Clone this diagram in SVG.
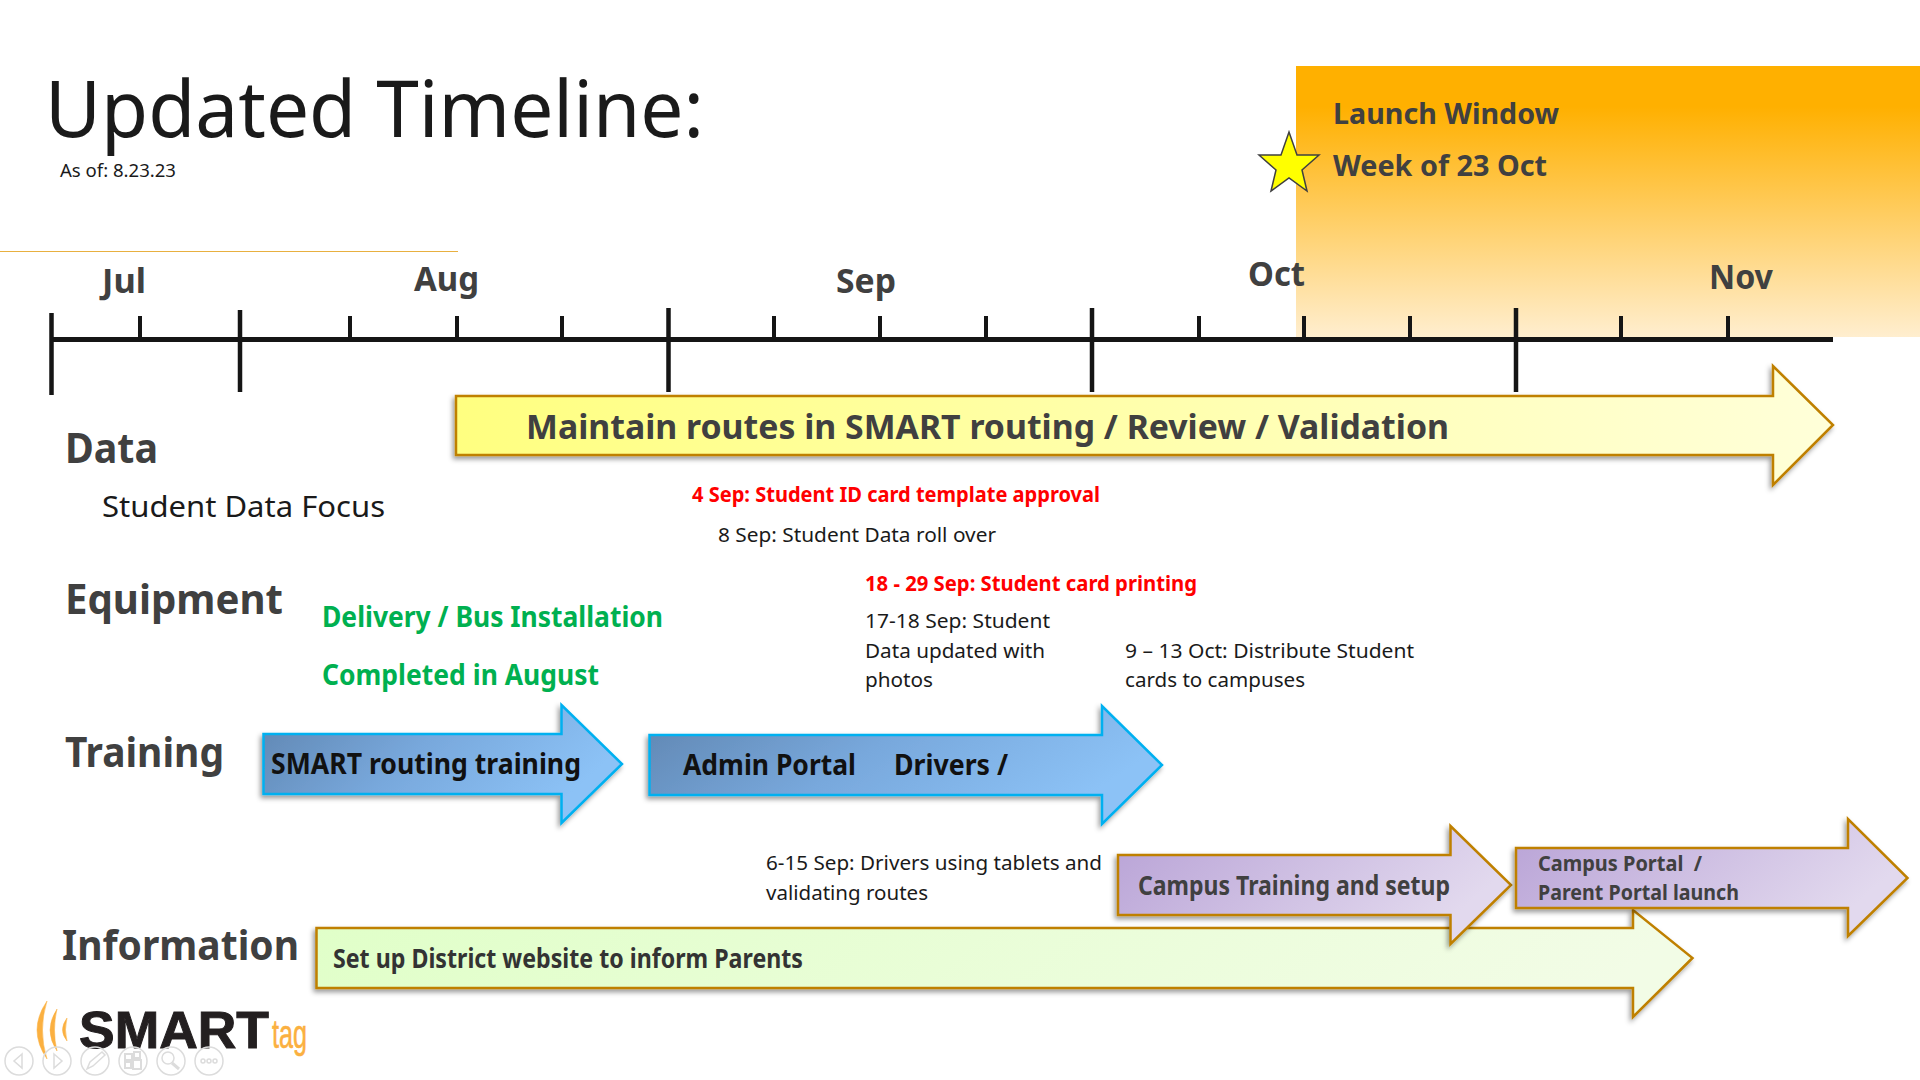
<svg xmlns="http://www.w3.org/2000/svg" width="1920" height="1080" viewBox="0 0 1920 1080">
<defs>
<linearGradient id="gold" x1="0" y1="0" x2="0" y2="1"><stop offset="0.15" stop-color="#ffb000"/><stop offset="1" stop-color="#ffeecf"/></linearGradient>
<linearGradient id="yel" x1="0" y1="0" x2="1" y2="0"><stop offset="0" stop-color="#ffff80"/><stop offset="1" stop-color="#ffffd9"/></linearGradient>
<linearGradient id="blu" x1="0" y1="0" x2="1" y2="0.35"><stop offset="0" stop-color="#5f85b0"/><stop offset="0.5" stop-color="#78a8dc"/><stop offset="1" stop-color="#8cc2f6"/></linearGradient>
<linearGradient id="pur" x1="0" y1="0" x2="1" y2="0.35"><stop offset="0" stop-color="#b8a2d6"/><stop offset="1" stop-color="#e2d9ee"/></linearGradient>
<linearGradient id="grn" x1="0" y1="0" x2="1" y2="0.1"><stop offset="0" stop-color="#e0ffc8"/><stop offset="1" stop-color="#f2fce6"/></linearGradient>
<filter id="sh" x="-5%" y="-10%" width="110%" height="125%"><feDropShadow dx="-2" dy="3" stdDeviation="2.5" flood-color="#000" flood-opacity="0.4"/></filter>
</defs>
<style>
text{font-family:"Noto Sans",Lato,"Liberation Sans",sans-serif;white-space:pre}
.h{font-weight:700;fill:#404040}
.b{fill:#1a1a1a;font-size:20px}
.r{font-weight:700;fill:#ff0000;font-size:20.5px}
.g{font-weight:700;fill:#00b050;font-size:28px}
.m{font-weight:700;fill:#404040;font-size:34px}
.ax{stroke:#151515;fill:none}
.ar{stroke-width:2.5;stroke-linejoin:miter;filter:url(#sh)}
.gd{stroke:#bf8000}
.bl{stroke:#00b0f0;fill:url(#blu)}
.nav{fill:none;stroke:#dcdcdc;stroke-width:1.5}
</style>
<rect width="1920" height="1080" fill="#fff"/>
<rect id="launch-window-band" x="1296" y="66" width="624" height="271" fill="url(#gold)"/>
<g id="header">
<text x="45" y="137" font-size="79" fill="#1a1a1a" textLength="659" lengthAdjust="spacingAndGlyphs">Updated Timeline:</text>
<text class="b" x="60" y="177" style="font-size:18px" textLength="116" lengthAdjust="spacingAndGlyphs">As of: 8.23.23</text>
<line x1="0" y1="251.5" x2="458" y2="251.5" stroke="#e8b040" stroke-width="1"/>
</g>
<g id="connectors">
<path class="ax" stroke-width="5" d="M51 339.500H1833"/>
<path class="ax" stroke-width="4.500" d="M51.500 313V395M240 310V392M668.500 308V392M1092 308V392M1516 308V392"/>
<path class="ax" stroke-width="4" d="M140 316V339M350 316V339M457 316V339M562 316V339M774 316V339M880 316V339M986 316V339M1199 316V339M1304 316V339M1410 316V339M1621 316V339M1728 316V339"/>
</g>
<g id="months">
<text class="m" x="102" y="293" textLength="44" lengthAdjust="spacingAndGlyphs">Jul</text>
<text class="m" x="414" y="291" textLength="65" lengthAdjust="spacingAndGlyphs">Aug</text>
<text class="m" x="836" y="293" textLength="60" lengthAdjust="spacingAndGlyphs">Sep</text>
<text class="m" x="1248" y="286" textLength="57" lengthAdjust="spacingAndGlyphs">Oct</text>
<text class="m" x="1709" y="289" textLength="64" lengthAdjust="spacingAndGlyphs">Nov</text>
</g>
<g id="launch">
<polygon points="1289,132 1297,155 1319,155 1302,170 1307,191 1289,178 1271,191 1276,170 1259,155 1281,155" fill="#ffff00" stroke="#404040" stroke-width="1.5"/>
<text class="h" x="1333" y="124" font-size="29" textLength="226" lengthAdjust="spacingAndGlyphs">Launch Window</text>
<text class="h" x="1333" y="176" font-size="29" textLength="214" lengthAdjust="spacingAndGlyphs">Week of 23 Oct</text>
</g>
<g id="row-labels">
<text class="h" x="65" y="463" font-size="42" textLength="93" lengthAdjust="spacingAndGlyphs">Data</text>
<text x="102" y="517" font-size="29" fill="#1a1a1a" textLength="283" lengthAdjust="spacingAndGlyphs">Student Data Focus</text>
<text class="h" x="65" y="614" font-size="42" textLength="218" lengthAdjust="spacingAndGlyphs">Equipment</text>
<text class="h" x="65" y="767" font-size="42" textLength="159" lengthAdjust="spacingAndGlyphs">Training</text>
<text class="h" x="62" y="960" font-size="42" textLength="237" lengthAdjust="spacingAndGlyphs">Information</text>
</g>
<g id="arrow-data">
<polygon class="ar gd" fill="url(#yel)" points="456,396 1773,396 1773,366 1833,425 1773,485 1773,455 456,455"/>
<text class="h" x="526" y="439" font-size="34" textLength="923" lengthAdjust="spacingAndGlyphs">Maintain routes in SMART routing / Review / Validation</text>
</g>
<g id="milestones">
<text class="r" x="692" y="502" textLength="408" lengthAdjust="spacingAndGlyphs">4 Sep: Student ID card template approval</text>
<text class="b" x="718" y="542" textLength="278" lengthAdjust="spacingAndGlyphs">8 Sep: Student Data roll over</text>
<text class="r" x="865" y="591" textLength="332" lengthAdjust="spacingAndGlyphs">18 - 29 Sep: Student card printing</text>
<text class="b" x="865" y="628" textLength="185" lengthAdjust="spacingAndGlyphs">17-18 Sep: Student</text>
<text class="b" x="865" y="658" textLength="180" lengthAdjust="spacingAndGlyphs">Data updated with</text>
<text class="b" x="865" y="687" textLength="68" lengthAdjust="spacingAndGlyphs">photos</text>
<text class="b" x="1125" y="658" textLength="289" lengthAdjust="spacingAndGlyphs">9 – 13 Oct: Distribute Student</text>
<text class="b" x="1125" y="687" textLength="180" lengthAdjust="spacingAndGlyphs">cards to campuses</text>
<text class="b" x="766" y="870" textLength="336" lengthAdjust="spacingAndGlyphs">6-15 Sep: Drivers using tablets and</text>
<text class="b" x="766" y="900" textLength="162" lengthAdjust="spacingAndGlyphs">validating routes</text>
</g>
<g id="equipment-text">
<text class="g" x="322" y="627" textLength="341" lengthAdjust="spacingAndGlyphs">Delivery / Bus Installation</text>
<text class="g" x="322" y="685" textLength="277" lengthAdjust="spacingAndGlyphs">Completed in August</text>
</g>
<g id="arrow-smart-routing">
<polygon class="ar bl" points="263.500,734 561.500,734 561.500,705 622,764 561.500,823 561.500,794 263.500,794"/>
<text x="271" y="774" font-size="29" font-weight="700" fill="#111" textLength="310" lengthAdjust="spacingAndGlyphs">SMART routing training</text>
</g>
<g id="arrow-admin">
<polygon class="ar bl" points="649.500,735 1102,735 1102,706 1162,765 1102,824 1102,795 649.500,795"/>
<text x="683" y="775" font-size="29" font-weight="700" fill="#111" textLength="173" lengthAdjust="spacingAndGlyphs">Admin Portal</text>
<text x="894" y="775" font-size="29" font-weight="700" fill="#111" textLength="114" lengthAdjust="spacingAndGlyphs">Drivers /</text>
</g>
<g id="arrow-information">
<polygon class="ar gd" fill="url(#grn)" points="316.500,928 1633,928 1633,910 1692.500,958 1633,1017 1633,988 316.500,988"/>
<text class="h" x="333" y="968" font-size="26" textLength="470" lengthAdjust="spacingAndGlyphs" style="fill:#333">Set up District website to inform Parents</text>
</g>
<g id="arrow-campus-training">
<polygon class="ar gd" fill="url(#pur)" points="1118,855 1450.500,855 1450.500,826 1511,885 1450.500,944 1450.500,915 1118,915"/>
<text class="h" x="1138" y="895" font-size="26" textLength="312" lengthAdjust="spacingAndGlyphs">Campus Training and setup</text>
</g>
<g id="arrow-campus-portal">
<polygon class="ar gd" fill="url(#pur)" points="1516,848 1848,848 1848,819 1907.500,878 1848,936 1848,908 1516,908"/>
<text class="h" x="1538" y="871" font-size="22" textLength="164" lengthAdjust="spacingAndGlyphs">Campus Portal  /</text>
<text class="h" x="1538" y="900" font-size="22" textLength="201" lengthAdjust="spacingAndGlyphs">Parent Portal launch</text>
</g>
<g id="logo">
<path d="M47 1001Q27 1030 47 1059Q38 1030 47 1001Z" fill="#fbb040" stroke="#fbb040" stroke-width="0.5"/>
<path d="M57 1009Q43 1030 57 1051Q52 1030 57 1009Z" fill="#fbb040" stroke="#fbb040" stroke-width="0.5"/>
<path d="M67 1018Q58 1030 67 1041Q64 1030 67 1018Z" fill="#fbb040" stroke="#fbb040" stroke-width="0.5"/>
<text x="79" y="1048" font-size="52" font-weight="700" fill="#231f20" stroke="#231f20" stroke-width="1" style="font-family:'Liberation Sans',sans-serif" textLength="190" lengthAdjust="spacingAndGlyphs">SMART</text>
<text x="272" y="1048" font-size="40" fill="#fbb040" stroke="#fbb040" stroke-width="0.6" style="font-family:'Liberation Sans',sans-serif" textLength="35" lengthAdjust="spacingAndGlyphs">tag</text>
</g>
<g id="slide-controls" class="nav">
<circle cx="19" cy="1061" r="14"/><path d="M22 1054L14 1061L22 1068Z"/>
<circle cx="57" cy="1061" r="14"/><path d="M54 1054L62 1061L54 1068Z"/>
<circle cx="95" cy="1061" r="14"/><path d="M87 1069L90 1062L102 1052L105 1055L93 1066Z"/>
<circle cx="133" cy="1061" r="14"/><path d="M125 1054H132V1060H125ZM134 1052H140V1058H134ZM125 1062H131V1068H125ZM133 1060H141V1069H133Z" stroke-width="2"/>
<circle cx="171" cy="1061" r="14"/><circle cx="168" cy="1058" r="6"/><path d="M172 1063L179 1069" stroke-width="3"/>
<circle cx="209" cy="1061" r="14"/><circle cx="203" cy="1061" r="2"/><circle cx="209" cy="1061" r="2"/><circle cx="215" cy="1061" r="2"/>
</g>
</svg>
